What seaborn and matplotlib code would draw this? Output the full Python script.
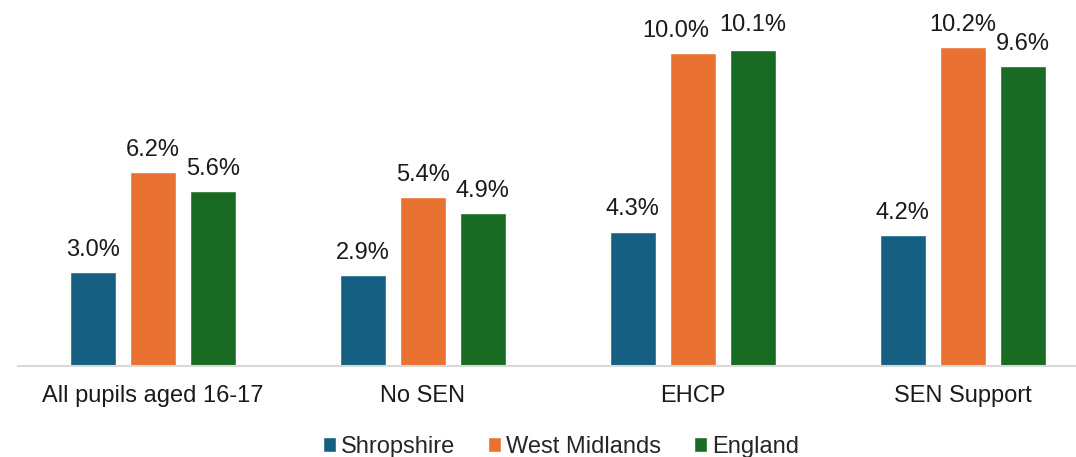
import matplotlib.pyplot as plt
import seaborn as sns
import pandas as pd

categories = ['All pupils aged 16-17', 'No SEN', 'EHCP', 'SEN Support']
areas = ['Shropshire', 'West Midlands', 'England']
shropshire = [3.0, 2.9, 4.3, 4.2]
west_midlands = [6.2, 5.4, 10.0, 10.2]
england = [5.6, 4.9, 10.1, 9.6]
colours = ['#156082', '#E97132', '#196B24']

rows = []
for area, vals in zip(areas, [shropshire, west_midlands, england]):
    for cat, v in zip(categories, vals):
        rows.append({'category': cat, 'area': area, 'value': v})
df = pd.DataFrame(rows)

sns.set_style('white')
plt.rcParams['font.family'] = ['Liberation Sans', 'DejaVu Sans']

fig = plt.figure(figsize=(10.76, 4.57), dpi=100)
ax = fig.add_axes([18 / 1076, 1 - 366 / 457, 1 - 18 / 1076, 344 / 457])

sns.barplot(data=df, x='category', y='value', hue='area', order=categories,
            hue_order=areas, palette=colours, width=0.667, gap=0.233,
            saturation=1, ax=ax, legend=True)

labels = []
for cont in ax.containers:
    labels.append(ax.bar_label(cont, fmt='%.1f%%', padding=8, fontsize=17, color='#1a1a1a'))

# West Midlands EHCP label nudged left in the original to avoid overlap
labels[1][2].xyann = (-12, 8)
labels[2][2].xyann = (0, 10)

ax.set_ylim(0, 11)
ax.set_xlim(-0.5, 3.42)
ax.set_xlabel('')
ax.set_ylabel('')
ax.set_yticks([])
for s in ['top', 'right', 'left']:
    ax.spines[s].set_visible(False)
ax.spines['bottom'].set_color('#d9d9d9')
ax.spines['bottom'].set_linewidth(1.5)
ax.tick_params(axis='x', length=0, pad=14, labelsize=17, labelcolor='#1a1a1a')

ax.legend(loc='center', bbox_to_anchor=(543 / 1058, -0.235), ncol=3, frameon=False,
          fontsize=17, handlelength=0.55, handleheight=0.55, handletextpad=0.2,
          columnspacing=1.4, borderaxespad=0)

fig.savefig('out.png', dpi=100)
